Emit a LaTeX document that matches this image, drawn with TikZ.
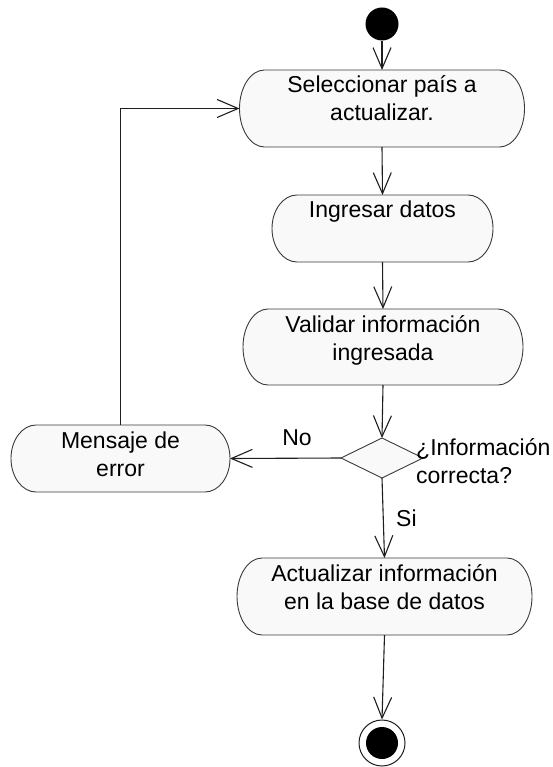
\documentclass[tikz,border=0pt]{standalone}
\usepackage{fontspec}
\setmainfont{Liberation Sans}
\usetikzlibrary{arrows.meta}
\definecolor{actfill}{HTML}{F9F9F9}
\definecolor{actborder}{HTML}{3A3A3A}
\definecolor{flowcol}{HTML}{1E1E1E}
\tikzset{
  actline/.style={draw=actborder, fill=actfill, line width=0.9pt},
  anchorbox/.style={rectangle, inner sep=0pt, outer sep=0pt},
  acttext/.style={inner sep=0pt, outer sep=0pt, font=\fontsize{23}{28}\selectfont},
  lbl/.style={inner sep=0pt, font=\fontsize{23}{28}\selectfont},
  flow/.style={draw=flowcol, line width=1.1pt, -{Straight Barb[length=21pt,width=18pt]}},
}
% #1 name, #2 center x, #3 top y, #4 width, #5 height, #6 text
\newcommand\myact[6]{%
  \node[anchorbox, minimum width=#4pt, minimum height=#5pt] (#1) at (#2,#3+#5/2) {};
  \draw[actline] (#2-#4/2+25,#3) -- (#2+#4/2-25,#3)
    .. controls (#2+#4/2-11.2,#3) and (#2+#4/2,#3+#5/2-0.5523*#5/2) .. (#2+#4/2,#3+#5/2)
    .. controls (#2+#4/2,#3+#5/2+0.5523*#5/2) and (#2+#4/2-11.2,#3+#5) .. (#2+#4/2-25,#3+#5)
    -- (#2-#4/2+25,#3+#5)
    .. controls (#2-#4/2+11.2,#3+#5) and (#2-#4/2,#3+#5/2+0.5523*#5/2) .. (#2-#4/2,#3+#5/2)
    .. controls (#2-#4/2,#3+#5/2-0.5523*#5/2) and (#2-#4/2+11.2,#3) .. cycle;
  \node[acttext, anchor=north] at (#2,#3+3.4) {\parbox[t]{#4pt}{\centering\strut #6}};
}
\begin{document}
\begin{tikzpicture}[x=1pt, y=-1pt]
\useasboundingbox (0,0) rectangle (552,767);

\node[circle, fill=black, minimum size=33pt, inner sep=0pt] (start) at (382,24) {};

\myact{a1}{382}{70}{285}{77}{Seleccionar país a\\actualizar.}
\myact{a2}{382.5}{195}{221}{67}{Ingresar datos}
\myact{a3}{383}{309}{280}{76}{Validar información\\ingresada}
\myact{msg}{120.5}{425}{219}{67}{Mensaje de\\error}
\myact{a4}{384.5}{558}{295}{77}{Actualizar información\\en la base de datos}

\node[anchorbox, minimum width=82pt, minimum height=40pt] (dec) at (382,458) {};
\draw[actline] (dec.north) -- (dec.east) -- (dec.south) -- (dec.west) -- cycle;

\node[circle, draw=flowcol, line width=1pt, fill=white, minimum size=46pt, inner sep=0pt] (end) at (382,743) {};
\node[circle, fill=black, minimum size=32pt, inner sep=0pt] (endin) at (382,743) {};

\node[lbl, anchor=west, align=left] (q) at (416,461) {¿Información\\correcta?};
\node[lbl] (no) at (297,438) {No};
\node[lbl, anchor=west] (si) at (396,518) {Si};

\draw[flow] (start) -- (a1.north);
\draw[flow] (a1.south) -- (a2.north);
\draw[flow] (a2.south) -- (a3.north);
\draw[flow] (a3.south) -- (dec.north);
\draw[flow] (dec.west) -- (msg.east);
\draw[flow] (dec.south) -- (a4.north);
\draw[flow] (msg.north) |- (a1.west);
\draw[flow] (a4.south) -- (end.north);
\end{tikzpicture}
\end{document}
